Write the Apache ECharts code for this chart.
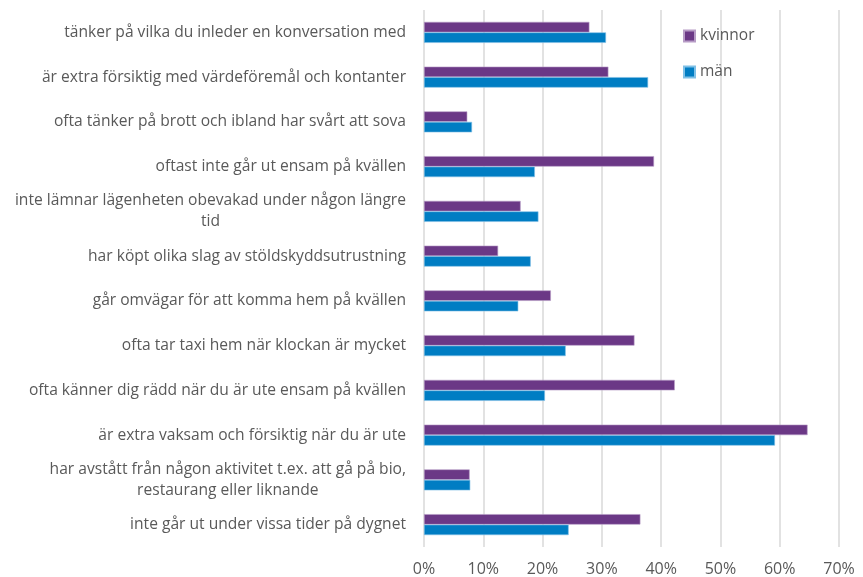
<!DOCTYPE html>
<html>
<head>
<meta charset="utf-8">
<script src="https://cdn.jsdelivr.net/npm/echarts@6/dist/echarts.min.js"></script>
<style>
  html, body { margin: 0; padding: 0; background: #fff; }
  #chart { width: 863px; height: 577px; }
</style>
</head>
<body>
<div id="chart"></div>
<script>
const categories = [
  'tänker på vilka du inleder en konversation med',
  'är extra försiktig med värdeföremål och kontanter',
  'ofta tänker på brott och ibland har svårt att sova',
  'oftast inte går ut ensam på kvällen',
  'inte lämnar lägenheten obevakad under någon längre\ntid',
  'har köpt olika slag av stöldskyddsutrustning',
  'går omvägar för att komma hem på kvällen',
  'ofta tar taxi hem när klockan är mycket',
  'ofta känner dig rädd när du är ute ensam på kvällen',
  'är extra vaksam och försiktig när du är ute',
  'har avstått från någon aktivitet t.ex. att gå på bio,\nrestaurang eller liknande',
  'inte går ut under vissa tider på dygnet'
];
const kvinnor = [27.9, 31.1, 7.3, 38.8, 16.3, 12.5, 21.4, 35.5, 42.3, 64.7, 7.7, 36.5];
const man = [30.7, 37.8, 8.1, 18.7, 19.3, 18.0, 15.9, 23.9, 20.4, 59.2, 7.8, 24.4];
const seriesNames = ['kvinnor', 'män'];

const font = '"Open Sans", "DejaVu Sans", sans-serif';
const textColor = '#595959';

// wrapped labels: lines centred on each other, block right-aligned to the axis
function catLabel(v){
  return v.split('\n').map(line => '{c|' + line + '}').join('\n');
}

const chart = echarts.init(document.getElementById('chart'), null, { renderer: 'canvas' });
chart.setOption({
  animation: false,
  textStyle: { fontFamily: font },
  grid: { left: 424, right: 24, top: 10, bottom: 30, containLabel: false },
  legend: {
    orient: 'vertical',
    left: 683,
    top: 28,
    padding: 0,
    itemWidth: 11,
    itemHeight: 11,
    itemGap: 20,
    icon: 'rect',
    data: seriesNames,
    textStyle: { color: textColor, fontSize: 15.5, fontFamily: font }
  },
  xAxis: {
    type: 'value',
    min: 0,
    max: 70,
    interval: 10,
    axisLine: { show: false },
    axisTick: { show: false },
    axisLabel: { color: textColor, fontSize: 16, fontFamily: font, margin: 14, formatter: v => v + '%' },
    splitLine: { show: true, lineStyle: { color: '#d9d9d9', width: 1.5 } }
  },
  yAxis: {
    type: 'category',
    inverse: true,
    data: categories,
    axisLine: { show: false },
    axisTick: { show: false },
    axisLabel: {
      color: textColor,
      fontSize: 15.6,
      fontFamily: font,
      margin: 18,
      align: 'right',
      lineHeight: 21,
      formatter: catLabel,
      rich: {
        c: { color: textColor, fontSize: 15.6, fontFamily: font, lineHeight: 21, align: 'center' }
      }
    }
  },
  series: [
    {
      name: seriesNames[0],
      type: 'bar',
      data: kvinnor,
      barWidth: 10.5,
      barGap: '0%',
      itemStyle: { color: '#6b3886', borderColor: '#b79cc6', borderWidth: 0.6 }
    },
    {
      name: seriesNames[1],
      type: 'bar',
      data: man,
      barWidth: 10.5,
      barGap: '0%',
      itemStyle: { color: '#007dc3', borderColor: '#7fc0e6', borderWidth: 0.6 }
    }
  ]
});
</script>
</body>
</html>
